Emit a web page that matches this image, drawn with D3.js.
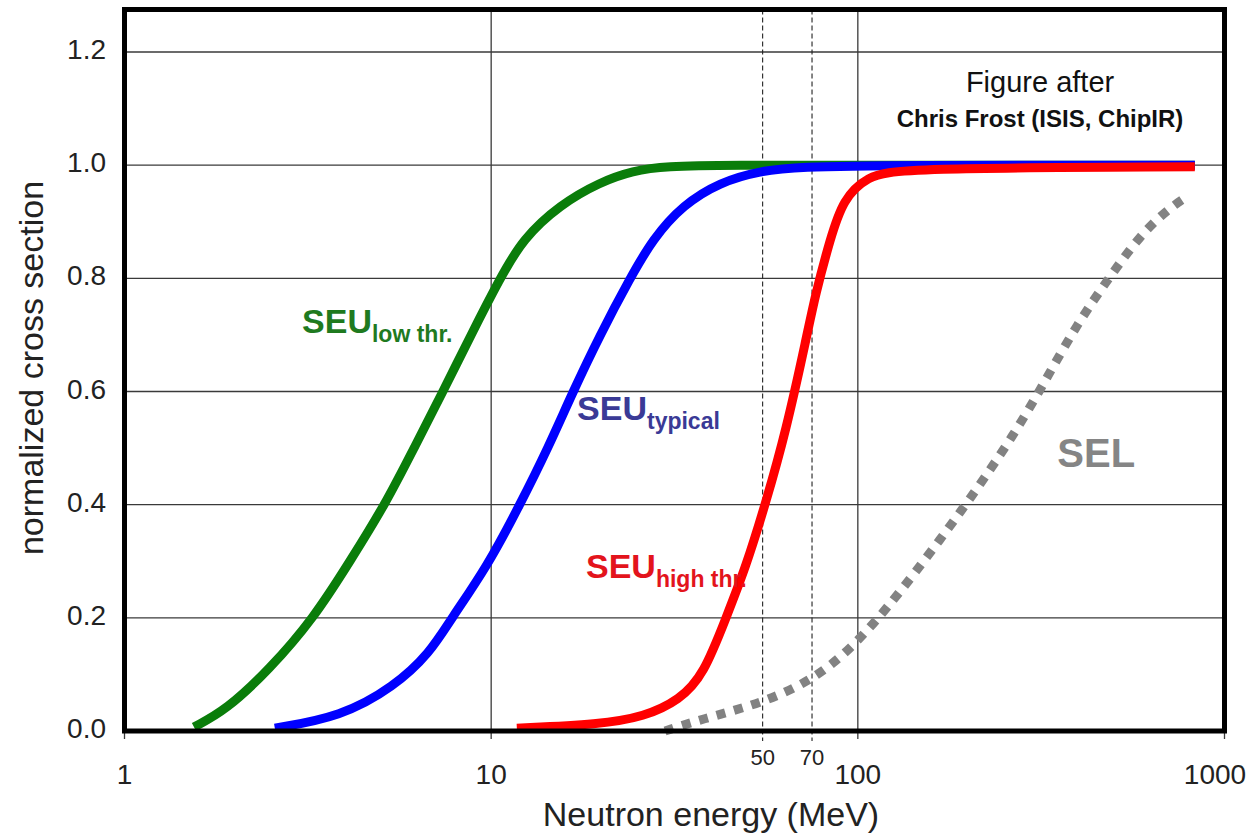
<!DOCTYPE html>
<html>
<head>
<meta charset="utf-8">
<script src="https://cdn.jsdelivr.net/npm/d3@7"></script>
<style>
  body { margin: 0; background: #fff; }
  text { font-family: "Liberation Sans", Arial, sans-serif; }
</style>
</head>
<body>
<svg id="chart" width="1249" height="835"></svg>
<script>
// x ticks / y ticks
const xTicks = [1, 10, 100, 1000];
const yTicks = [0, 0.2, 0.4, 0.6, 0.8, 1.0, 1.2];
// dashed reference lines (where they sit on the axis) and their labels
const markerAt = [55, 75];
const markerLabels = ["50", "70"];

// SEU low threshold (green)
const lowE = [1.547, 1.892, 2.478, 3.287, 4.12, 5.135, 6.16, 7.39, 8.81, 10.57, 12.21, 15.41, 19.81, 24.37, 29.8, 45, 100, 830];
const lowY = [0.007, 0.037, 0.108, 0.2, 0.3, 0.4, 0.5, 0.6, 0.7, 0.8, 0.87, 0.93, 0.97, 0.99, 0.998, 1.0, 1.0, 1.0];
// SEU typical (blue)
const typE = [2.57, 3.89, 5.43, 6.81, 7.77, 9.74, 11.98, 14.29, 16.72, 19.81, 23.91, 27.63, 33.37, 42.08, 54.1, 69.5, 120, 830];
const typY = [0.005, 0.025, 0.078, 0.138, 0.198, 0.29, 0.4, 0.5, 0.6, 0.7, 0.8, 0.87, 0.93, 0.97, 0.99, 0.997, 1.0, 1.0];
// SEU high threshold (red)
const highE = [11.75, 19.8, 26.1, 32.7, 38, 43.7, 49.5, 55.9, 63.7, 72.7, 76.5, 84.1, 91.2, 106, 130, 830];
const highY = [0.005, 0.012, 0.025, 0.055, 0.1, 0.2, 0.29, 0.4, 0.53, 0.7, 0.77, 0.87, 0.94, 0.98, 0.995, 0.997];
// SEL (grey dotted)
const selE = [29.8, 37.1, 55.2, 75.1, 96, 128, 197.7, 269, 325, 397, 483, 590, 704, 793];
const selY = [0.0, 0.02, 0.05, 0.09, 0.145, 0.237, 0.4, 0.527, 0.62, 0.72, 0.80, 0.877, 0.923, 0.945];

const svg = d3.select("#chart");

const x = d3.scaleLog().domain([1, 1000]).range([124.5, 1224.5]);
const y = d3.scaleLinear().domain([0, 1.2]).range([731, 52]);
const frameTop = 9.5;

// horizontal grid
svg.append("g").selectAll("line")
    .data(yTicks)
    .enter().append("line")
    .attr("x1", x(1)).attr("x2", x(1000))
    .attr("y1", d => y(d)).attr("y2", d => y(d))
    .attr("stroke", "#3a3a3a")
    .attr("stroke-width", 1.3);

// vertical grid at decades, running a bit below the frame as ticks
svg.append("g").selectAll("line")
    .data(xTicks)
    .enter().append("line")
    .attr("x1", d => x(d)).attr("x2", d => x(d))
    .attr("y1", frameTop).attr("y2", 739)
    .attr("stroke", "#3a3a3a")
    .attr("stroke-width", 1.3);

// dashed 50 / 70 lines
svg.append("g").selectAll("line")
    .data(markerAt)
    .enter().append("line")
    .attr("x1", d => x(d)).attr("x2", d => x(d))
    .attr("y1", frameTop).attr("y2", 741)
    .attr("stroke", "#222")
    .attr("stroke-width", 1.1)
    .attr("stroke-dasharray", "5,3");

// curves (basis smooths the values)
const line = d3.line()
    .x(d => x(d[0]))
    .y(d => y(d[1]))
    .curve(d3.curveBasis);

const series = [
    { e: selE, v: selY, color: "#828282", dash: "9,9" },
    { e: lowE, v: lowY, color: "#0a7d0a" },
    { e: typE, v: typY, color: "#0000ff" },
    { e: highE, v: highY, color: "#ff0000" }
];

svg.append("g").selectAll("path")
    .data(series)
    .enter().append("path")
    .attr("d", s => line(s.e.map((e, i) => [e, s.v[i]])))
    .attr("fill", "none")
    .attr("stroke", s => s.color)
    .attr("stroke-width", 9)
    .attr("stroke-dasharray", s => s.dash || null);

// frame
svg.append("rect")
    .attr("x", x(1)).attr("y", frameTop)
    .attr("width", x(1000) - x(1))
    .attr("height", y(0) - frameTop)
    .attr("fill", "none")
    .attr("stroke", "#000")
    .attr("stroke-width", 5);

// y tick labels
svg.append("g").selectAll("text")
    .data(yTicks)
    .enter().append("text")
    .attr("x", 106)
    .attr("y", d => y(d) + 7)
    .attr("text-anchor", "end")
    .attr("font-size", 28)
    .attr("fill", "#222")
    .text(d => d.toFixed(1));

// x tick labels
svg.append("g").selectAll("text")
    .data(xTicks)
    .enter().append("text")
    .attr("x", d => Math.min(x(d), 1215))
    .attr("y", 784)
    .attr("text-anchor", "middle")
    .attr("font-size", 28)
    .attr("fill", "#222")
    .text(d => d);

svg.append("g").selectAll("text")
    .data(markerAt)
    .enter().append("text")
    .attr("x", d => x(d))
    .attr("y", 765)
    .attr("text-anchor", "middle")
    .attr("font-size", 22)
    .attr("fill", "#222")
    .text((d, i) => markerLabels[i]);

// axis titles
svg.append("text")
    .attr("x", 711).attr("y", 826)
    .attr("text-anchor", "middle")
    .attr("font-size", 34)
    .attr("fill", "#222")
    .text("Neutron energy (MeV)");

svg.append("text")
    .attr("transform", "translate(43,368) rotate(-90)")
    .attr("text-anchor", "middle")
    .attr("font-size", 34)
    .attr("fill", "#222")
    .text("normalized cross section");

// curve labels, placed in data space
const labels = [
    { e: 3.05, v: 0.703, main: "SEU", sub: "low thr.", color: "#1f7a1f" },
    { e: 17.15, v: 0.55, main: "SEU", sub: "typical", color: "#3a3a96" },
    { e: 18.14, v: 0.27, main: "SEU", sub: "high thr.", color: "#e3141c" }
];

labels.forEach(l => {
    const t = svg.append("text")
        .attr("x", x(l.e)).attr("y", y(l.v))
        .attr("font-weight", "bold")
        .attr("fill", l.color);
    t.append("tspan").attr("font-size", 34).text(l.main);
    t.append("tspan").attr("font-size", 23).attr("dy", 9).text(l.sub);
});

svg.append("text")
    .attr("x", x(350)).attr("y", y(0.467))
    .attr("font-weight", "bold")
    .attr("font-size", 40)
    .attr("fill", "#858585")
    .text("SEL");

// credit
svg.append("text")
    .attr("x", x(314)).attr("y", y(1.13))
    .attr("text-anchor", "middle")
    .attr("font-size", 29)
    .attr("fill", "#111")
    .text("Figure after");

svg.append("text")
    .attr("x", x(314)).attr("y", y(1.067))
    .attr("text-anchor", "middle")
    .attr("font-family", "Lato, 'Open Sans', sans-serif")
    .attr("font-weight", "bold")
    .attr("font-size", 24)
    .attr("fill", "#111")
    .text("Chris Frost (ISIS, ChipIR)");
</script>
</body>
</html>
